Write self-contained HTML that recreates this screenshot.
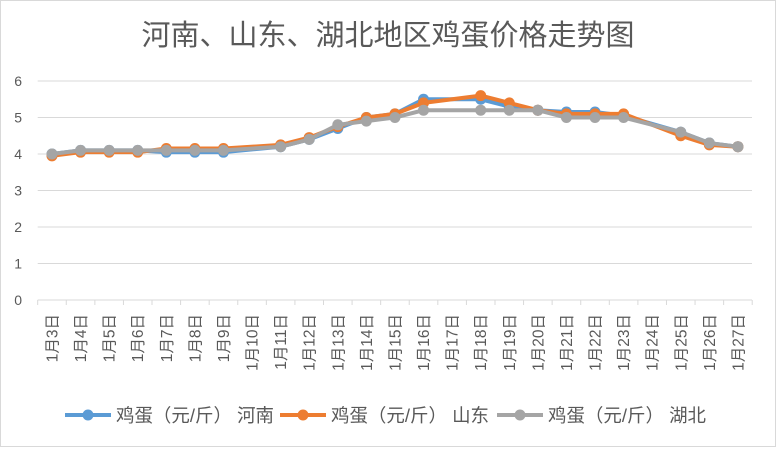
<!DOCTYPE html>
<html><head><meta charset="utf-8"><style>
body{margin:0;background:#fff}
svg text{font-family:"Liberation Sans","Noto Sans CJK SC",sans-serif;fill:#595959}
</style></head><body>
<svg width="776" height="447" viewBox="0 0 776 447" xmlns="http://www.w3.org/2000/svg">
<rect x="0.5" y="0.5" width="775" height="446" fill="#fff" stroke="#d9d9d9"/>
<text x="388" y="45" text-anchor="middle" font-size="29">河南、山东、湖北地区鸡蛋价格走势图</text>
<g id="g"></g>
</svg>
<script>
const g=document.getElementById('g');const ns='http://www.w3.org/2000/svg';
function el(t,a,txt){const e=document.createElementNS(ns,t);for(const k in a)e.setAttribute(k,a[k]);if(txt)e.textContent=txt;g.appendChild(e);return e;}
const L=37.7,W=28.58,Y0=300,U=36.5;
const X=i=>L+W*(i+0.5), Yv=v=>Y0-v*U;
for(let v=0;v<=6;v++){ if(v>0)el('line',{x1:L,x2:752,y1:Yv(v),y2:Yv(v),stroke:'#d9d9d9'});
 el('text',{x:22,y:Yv(v)+5,'text-anchor':'end','font-size':14},String(v));}
el('line',{x1:L,x2:752,y1:300,y2:300,stroke:'#d9d9d9'});
for(let i=0;i<=25;i++)el('line',{x1:L+W*i,x2:L+W*i,y1:300,y2:305,stroke:'#d9d9d9'});
for(let i=0;i<25;i++){const x=X(i)+5.5;el('text',{x:x,y:314,'text-anchor':'end','font-size':15.5,transform:`rotate(-90 ${x} 314)`},`1月${i+3}日`);}
const days=[3,4,5,6,7,8,9,11,12,13,14,15,16,18,19,20,21,22,23,25,26,27];
const S=[
['#5b9bd5',[4.0,4.1,4.1,4.1,4.05,4.05,4.05,4.2,4.4,4.7,5.0,5.1,5.5,5.5,5.3,5.2,5.15,5.15,5.05,4.6,4.3,4.2]],
['#ed7d31',[3.95,4.05,4.05,4.05,4.15,4.15,4.15,4.25,4.45,4.75,5.0,5.1,5.4,5.6,5.4,5.2,5.1,5.1,5.1,4.5,4.25,4.2]],
['#a5a5a5',[4.0,4.1,4.1,4.1,4.1,4.1,4.1,4.2,4.4,4.8,4.9,5.0,5.2,5.2,5.2,5.2,5.0,5.0,5.0,4.6,4.3,4.2]]];
for(const [c,d] of S){const pts=d.map((v,k)=>[X(days[k]-3),Yv(v)]);
 el('polyline',{points:pts.map(p=>p.join(',')).join(' '),fill:'none',stroke:c,'stroke-width':4,'stroke-linejoin':'round'});
 for(const p of pts)el('circle',{cx:p[0],cy:p[1],r:5.5,fill:c});}
const lg=[[65,'#5b9bd5','鸡蛋（元/斤） 河南'],[280,'#ed7d31','鸡蛋（元/斤） 山东'],[497,'#a5a5a5','鸡蛋（元/斤） 湖北']];
for(const [x,c,t] of lg){el('line',{x1:x,x2:x+46,y1:415,y2:415,stroke:c,'stroke-width':4});
 el('circle',{cx:x+23,cy:415,r:5.5,fill:c});el('text',{x:x+51,y:422,'font-size':18.5,textLength:158,lengthAdjust:'spacingAndGlyphs'},t);}
</script>
</body></html>
